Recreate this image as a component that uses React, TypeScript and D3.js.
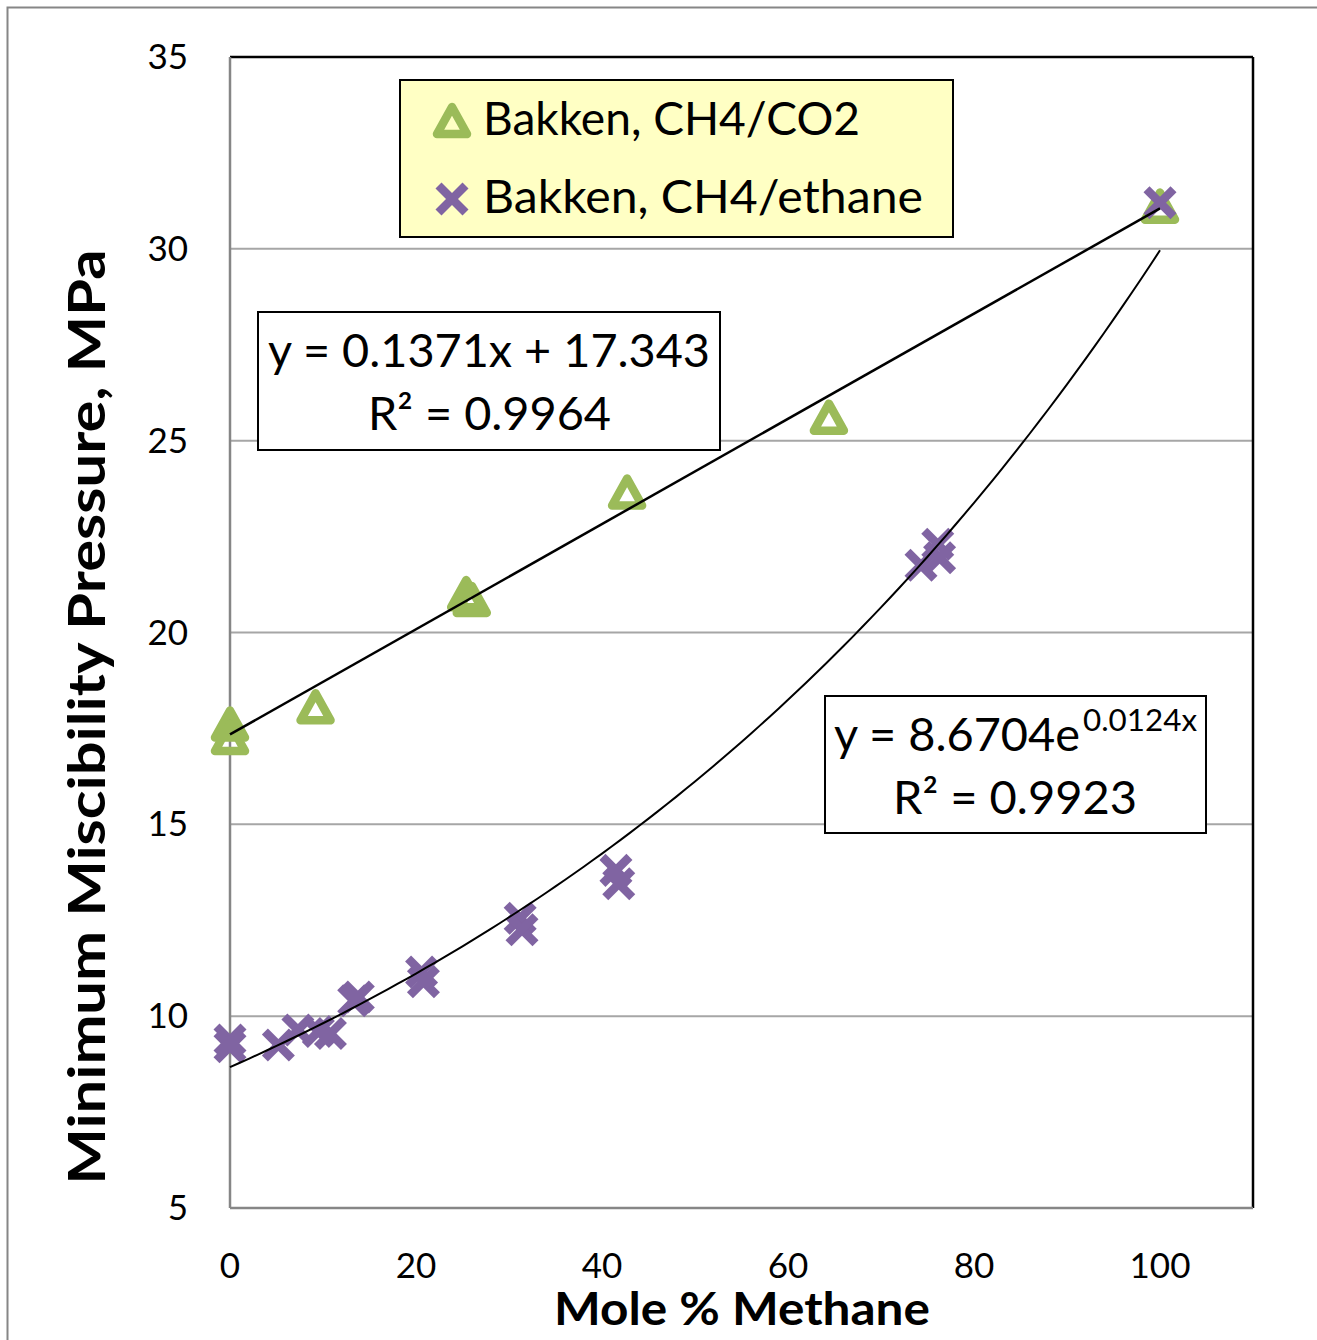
import React from "react";
import * as d3 from "d3";

// Bakken MMP measurements, CH4/CO2 mixtures
const co2X = [0, 0, 9.2, 25.4, 26.0, 42.7, 64.4, 100];
const co2Y = [17.6, 17.25, 18.05, 21.0, 20.85, 23.65, 25.6, 31.1];

// Bakken MMP measurements, CH4/ethane mixtures
const ethX = [0, 0, 5.2, 7.3, 9.5, 10.8, 13.3, 13.8, 20.6, 20.8, 31.2, 31.4, 41.5, 41.8, 74.3, 76.1, 76.3, 100];
const ethY = [9.38, 9.2, 9.25, 9.64, 9.6, 9.55, 10.4, 10.5, 11.15, 10.9, 12.55, 12.25, 13.8, 13.45, 21.75, 22.3, 21.95, 31.2];

// Trendline coefficients as reported on the chart
const linSlope = 0.1371;
const linIntercept = 17.343;
const linR2 = "0.9964";
const expA = 8.6704;
const expB = 0.0124;
const expR2 = "0.9923";

const xTicks = [0, 20, 40, 60, 80, 100];
const yTicks = [5, 10, 15, 20, 25, 30, 35];

const GREEN = "#9BBB59";
const PURPLE = "#8064A2";
const FONT = "Lato, 'Open Sans', sans-serif";

const W = 1317;
const H = 1340;
const left = 230;
const right = 1253;
const top = 57;
const bottom = 1208;

const x = d3.scaleLinear().domain([0, 110]).range([left, left + 9.3 * 110]);
const y = d3.scaleLinear().domain([5, 35]).range([bottom, top]);

function Triangle({ cx, cy }: { cx: number; cy: number }) {
  const p = `M${cx},${cy - 14} L${cx + 15},${cy + 13} L${cx - 15},${cy + 13} Z`;
  return <path d={p} fill="none" stroke={GREEN} strokeWidth={8.5} strokeLinejoin="round" />;
}

function Cross({ cx, cy }: { cx: number; cy: number }) {
  const s = 13.5;
  return (
    <g stroke={PURPLE} strokeWidth={8.5} strokeLinecap="butt">
      <line x1={cx - s} y1={cy - s} x2={cx + s} y2={cy + s} />
      <line x1={cx - s} y1={cy + s} x2={cx + s} y2={cy - s} />
    </g>
  );
}

export default function App() {
  const line = d3
    .line<number>()
    .x((d) => x(d))
    .y((d) => y(linSlope * d + linIntercept));
  const expLine = d3
    .line<number>()
    .x((d) => x(d))
    .y((d) => y(expA * Math.exp(expB * d)))
    .curve(d3.curveMonotoneX);
  const xs = d3.range(0, 100.01, 1);

  return (
    <svg
      width={W}
      height={H}
      style={{ position: "absolute", left: 0, top: 0, background: "#fff" }}
      fontFamily={FONT}
    >
      <rect x={0} y={0} width={W} height={H} fill="#fff" />
      {/* outer chart frame */}
      <rect x={7.5} y={7.5} width={W + 20} height={H + 20} fill="none" stroke="#868686" strokeWidth={2} />

      {/* gridlines */}
      {yTicks
        .filter((t) => t > 5 && t < 35)
        .map((t) => (
          <line key={t} x1={left} x2={right} y1={y(t)} y2={y(t)} stroke="#A6A6A6" strokeWidth={2} />
        ))}

      {/* plot frame: black top/right, grey axes */}
      <line x1={left} x2={right} y1={top} y2={top} stroke="#000" strokeWidth={2.5} />
      <line x1={right} x2={right} y1={top} y2={bottom} stroke="#000" strokeWidth={2.5} />
      <line x1={left} x2={left} y1={top} y2={bottom} stroke="#868686" strokeWidth={2.5} />
      <line x1={left} x2={right} y1={bottom} y2={bottom} stroke="#868686" strokeWidth={2.5} />

      {/* tick labels */}
      {yTicks.map((t) => (
        <text key={t} x={188} y={y(t) + 12} textAnchor="end" fontSize={35} fill="#000">
          {t}
        </text>
      ))}
      {xTicks.map((t) => (
        <text key={t} x={x(t)} y={1278} textAnchor="middle" fontSize={35} fill="#000">
          {t}
        </text>
      ))}

      {/* axis titles */}
      <text
        transform={`translate(105,717) rotate(-90)`}
        textAnchor="middle"
        fontSize={51}
        fontWeight="bold"
        fill="#000"
        textLength={935}
        lengthAdjust="spacingAndGlyphs"
      >
        Minimum Miscibility Pressure, MPa
      </text>
      <text
        x={742}
        y={1325}
        textAnchor="middle"
        fontSize={46}
        fontWeight="bold"
        fill="#000"
        textLength={376}
        lengthAdjust="spacingAndGlyphs"
      >
        Mole % Methane
      </text>

      {/* data markers */}
      {co2X.map((v, i) => (
        <Triangle key={"t" + i} cx={x(v)} cy={y(co2Y[i])} />
      ))}
      {ethX.map((v, i) => (
        <Cross key={"c" + i} cx={x(v)} cy={y(ethY[i])} />
      ))}

      {/* trendlines */}
      <path d={line([0, 100]) || ""} fill="none" stroke="#000" strokeWidth={2.5} />
      <path d={expLine(xs) || ""} fill="none" stroke="#000" strokeWidth={2} />

      {/* legend */}
      <rect x={400} y={80} width={553} height={157} fill="#FFFFC4" stroke="#000" strokeWidth={2} />
      <Triangle cx={452} cy={121} />
      <text x={483} y={135} fontSize={46} fill="#000" textLength={377} lengthAdjust="spacingAndGlyphs">
        Bakken, CH4/CO2
      </text>
      <Cross cx={452} cy={199} />
      <text x={483} y={213} fontSize={46} fill="#000" textLength={440} lengthAdjust="spacingAndGlyphs">
        Bakken, CH4/ethane
      </text>

      {/* linear fit label */}
      <rect x={258} y={312} width={462} height={138} fill="#fff" stroke="#000" strokeWidth={2} />
      <text x={268} y={367} fontSize={46} fill="#000" textLength={442} lengthAdjust="spacingAndGlyphs">
        {`y = ${linSlope}x + ${linIntercept}`}
      </text>
      <text x={368} y={430} fontSize={46} fill="#000" textLength={243} lengthAdjust="spacingAndGlyphs">
        {`R² = ${linR2}`}
      </text>

      {/* exponential fit label */}
      <rect x={825} y={696} width={381} height={137} fill="#fff" stroke="#000" strokeWidth={2} />
      <text x={834} y={751} fontSize={46} fill="#000" textLength={246} lengthAdjust="spacingAndGlyphs">
        {`y = ${expA}e`}
      </text>
      <text x={1083} y={731} fontSize={31} fill="#000" textLength={114} lengthAdjust="spacingAndGlyphs">
        {`${expB}x`}
      </text>
      <text x={893} y={814} fontSize={46} fill="#000" textLength={244} lengthAdjust="spacingAndGlyphs">
        {`R² = ${expR2}`}
      </text>
    </svg>
  );
}
